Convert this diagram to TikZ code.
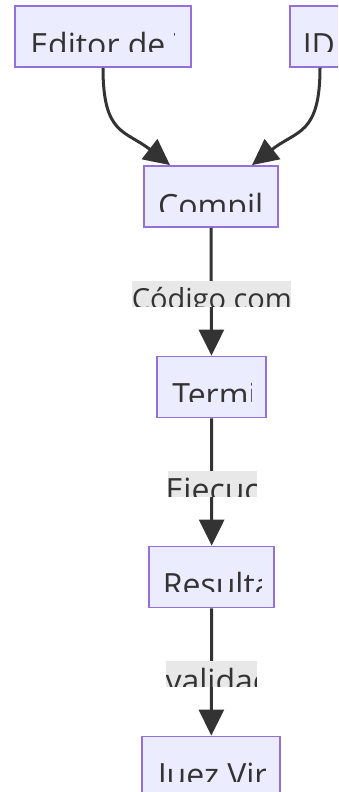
\documentclass[tikz,border=0pt]{standalone}
\usepackage{fontspec}
\setmainfont{Open Sans}
\usetikzlibrary{arrows.meta}

\definecolor{boxfill}{HTML}{ECECFF}
\definecolor{boxline}{HTML}{9370DB}
\definecolor{edgecol}{HTML}{333333}
\definecolor{labelbg}{HTML}{E8E8E8}
\definecolor{txtcol}{HTML}{333333}

\tikzset{
  box/.style={draw=boxline, fill=boxfill, line width=1.8pt, inner sep=0pt},
  txt/.style={anchor=base west, inner sep=0pt, text=txtcol,
    font=\fontsize{32}{38}\selectfont},
  edge/.style={draw=edgecol, line width=3pt,
    -{Triangle[length=26pt, width=25pt]}},
  lblbg/.style={fill=labelbg, draw=none, inner sep=0pt}
}

\begin{document}
\begin{tikzpicture}[x=1pt, y=-1pt]
  \path[use as bounding box, clip] (0,0) rectangle (338,792);
  \fill[white] (0,0) rectangle (338,792);

  % boxes
  \node[box, minimum width=176pt, minimum height=61pt] (editor) at (103,36.5) {};
  \node[box, minimum width=60pt, minimum height=61pt] (ide) at (320,36.5) {};
  \node[box, minimum width=133.4pt, minimum height=61pt] (comp) at (211,196.5) {};
  \node[box, minimum width=108.4pt, minimum height=61pt] (term) at (211.5,387) {};
  \node[box, minimum width=125.3pt, minimum height=61pt] (res) at (211.7,577) {};
  \node[box, minimum width=138pt, minimum height=61pt] (juez) at (211.3,767) {};

  % connectors
  \draw[edge] (editor.south) .. controls (103,135) and (125,130) .. ([xshift=-41pt]comp.north);
  \draw[edge] (ide.south) .. controls (320,135) and (297,130) .. ([xshift=41pt]comp.north);
  \draw[edge] (comp.south) -- (term.north);
  \draw[edge] (term.south) -- (res.north);
  \draw[edge] (res.south) -- (juez.north);

  % edge labels: grey backing, text cut to its frame
  \path[lblbg] (132.3,281) rectangle (291,306.7);
  \begin{scope}
    \clip (132.3,281) rectangle (291,306.7);
    \node[txt, font=\fontsize{29}{35}\selectfont] (l1) at (131.6,309) {Código compilado};
  \end{scope}
  \path[lblbg] (168.3,471) rectangle (256.7,496.7);
  \begin{scope}
    \clip (168.3,471) rectangle (256.7,496.7);
    \node[txt] (l2) at (165.5,501.2) {Ejecución};
  \end{scope}
  \path[lblbg] (166,661) rectangle (256.7,686.7);
  \begin{scope}
    \clip (166,661) rectangle (256.7,686.7);
    \node[txt] (l3) at (165.3,692.3) {validación};
  \end{scope}

  % box texts, each cut to its text frame
  \begin{scope}
    \clip (30.2,26) rectangle (174,52);
    \node[txt] (t1) at (30.2,56.2) {Editor de Texto};
  \end{scope}
  \begin{scope}
    \clip (302.6,26) rectangle (334,52);
    \node[txt] (t2) at (302.6,56.2) {IDE};
  \end{scope}
  \begin{scope}
    \clip (158,185.7) rectangle (262.7,211.7);
    \node[txt] (t3) at (158,217.2) {Compilador};
  \end{scope}
  \begin{scope}
    \clip (172.1,375.7) rectangle (251.7,401.7);
    \node[txt] (t4) at (172.1,406.2) {Terminal};
  \end{scope}
  \begin{scope}
    \clip (162.6,565.7) rectangle (261,591.7);
    \node[txt] (t5) at (162.6,596.2) {Resultado};
  \end{scope}
  \begin{scope}
    \clip (156,755) rectangle (265.7,781);
    \node[txt] (t6) at (158,786.2) {Juez Virtual};
  \end{scope}
\end{tikzpicture}
\end{document}
